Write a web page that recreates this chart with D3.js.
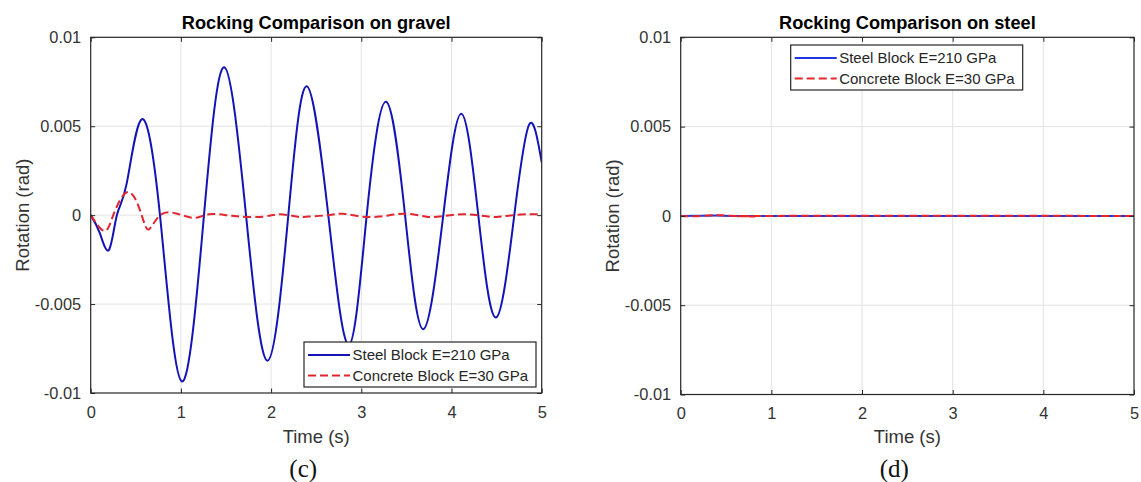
<!DOCTYPE html>
<html>
<head>
<meta charset="utf-8">
<script src="https://cdn.jsdelivr.net/npm/d3@7"></script>
<style>
  html, body { margin: 0; padding: 0; background: #ffffff; }
  svg { display: block; }
</style>
</head>
<body>
<svg id="fig" width="1141" height="482"></svg>
<script>
// ---- axis ticks and labels ----
const timeTicks = [0, 1, 2, 3, 4, 5];
const rotTicks = [-0.01, -0.005, 0, 0.005, 0.01];
const rotTickLabels = ["-0.01", "-0.005", "0", "0.005", "0.01"];
const legendLabels = ["Steel Block E=210 GPa", "Concrete Block E=30 GPa"];
const panelTitles = ["Rocking Comparison on gravel", "Rocking Comparison on steel"];
const panelCaptions = ["(c)", "(d)"];

// ---- rocking response on gravel (time s, rotation rad) ----
const gravelSteelTime = [0, 0.10, 0.203, 0.29, 0.40, 0.565, 0.768, 1.009, 1.256, 1.481, 1.722, 1.962,
  2.191, 2.395, 2.634, 2.862, 3.06, 3.274, 3.485, 3.687, 3.909, 4.109, 4.297, 4.493, 4.696, 4.863, 5.0];
const gravelSteelRot = [0, -0.0010, -0.00195, 0, 0.0018, 0.00539, 0, -0.00935, 0, 0.00832, 0, -0.00818,
  0, 0.00725, 0, -0.0073, 0, 0.00637, 0, -0.00641, 0, 0.0057, 0, -0.00576, 0, 0.00511, 0.00297];

const gravelConcreteTime = [0, 0.151, 0.25, 0.417, 0.565, 0.646, 0.77, 0.96, 1.15, 1.31, 1.5, 1.67, 1.92,
  2.1, 2.28, 2.41, 2.63, 2.8, 3.0, 3.2, 3.39, 3.57, 3.74, 3.91, 4.13, 4.32, 4.5, 4.68, 4.87, 5.0];
const gravelConcreteRot = [0, -0.00089, 0, 0.0013, 0, -0.0008, 0, 0.00008, -0.00015, 0.00005, 0, -0.00008, -0.00008,
  0.00005, -0.00008, -0.00008, 0, 0.00008, -0.00008, -0.00008, 0.00005, 0.00005, -0.0001, -0.00005, 0.00005, -0.00002,
  -0.0001, 0, 0.00005, 0.00004];

// ---- rocking response on steel ----
const steelSteelTime = [0, 0.2, 0.4, 0.6, 0.8, 1.0, 5.0];
const steelSteelRot = [0, 0.00001, 0.00002, 0, -0.00001, 0, 0];
const steelConcreteTime = [0, 0.15, 0.35, 0.55, 0.8, 1.0, 5.0];
const steelConcreteRot = [0, -0.00002, 0.00004, 0.00001, -0.00003, 0, 0];

const svg = d3.select("#fig");
const FONT = "'Liberation Sans', Arial, Helvetica, sans-serif";
const AXIS_COLOR = "#262626";
const TEXT_COLOR = "#333333";

function toPoints(ts, vs) { return ts.map((t, i) => [t, vs[i]]); }

function drawPanel(p) {
  const x = d3.scaleLinear().domain([0, 5]).range([p.left, p.right]);
  const y = d3.scaleLinear().domain([-0.01, 0.01]).range([p.bottom, p.top]);
  const g = svg.append("g");

  // grid
  const grid = g.append("g").attr("stroke", "#e3e3e3").attr("stroke-width", 1);
  grid.selectAll("line.gx").data(timeTicks.slice(1, -1)).join("line")
    .attr("class", "gx")
    .attr("x1", d => x(d)).attr("x2", d => x(d))
    .attr("y1", p.top).attr("y2", p.bottom);
  grid.selectAll("line.gy").data(rotTicks.slice(1, -1)).join("line")
    .attr("class", "gy")
    .attr("x1", p.left).attr("x2", p.right)
    .attr("y1", d => y(d)).attr("y2", d => y(d));

  // clipped data area
  const clipId = "clip" + p.id;
  svg.append("defs").append("clipPath").attr("id", clipId)
    .append("rect").attr("x", p.left).attr("y", p.top)
    .attr("width", p.right - p.left).attr("height", p.bottom - p.top);

  const line = d3.line().x(d => x(d[0])).y(d => y(d[1])).curve(d3.curveNatural);
  const plot = g.append("g").attr("clip-path", `url(#${clipId})`);
  plot.append("path").datum(toPoints(p.steelT, p.steelV))
    .attr("d", line).attr("fill", "none")
    .attr("stroke", p.blue).attr("stroke-width", 2).attr("stroke-linejoin", "round");
  plot.append("path").datum(toPoints(p.concT, p.concV))
    .attr("d", line).attr("fill", "none")
    .attr("stroke", p.red).attr("stroke-width", 2).attr("stroke-dasharray", "8,4");

  // axes with inward ticks
  const styleAxis = sel => {
    sel.select(".domain").remove();
    sel.selectAll(".tick line").attr("stroke", AXIS_COLOR);
    sel.selectAll("text").attr("fill", TEXT_COLOR).attr("font-family", FONT).attr("font-size", 16.4);
  };
  g.append("g").attr("transform", `translate(0,${p.bottom})`)
    .call(d3.axisBottom(x).tickValues(timeTicks).tickSize(-4.5).tickPadding(13).tickFormat(d3.format("d")))
    .call(styleAxis);
  g.append("g").attr("transform", `translate(0,${p.top})`)
    .call(d3.axisTop(x).tickValues(timeTicks).tickSize(-4.5).tickFormat(""))
    .call(styleAxis);
  g.append("g").attr("transform", `translate(${p.left},0)`)
    .call(d3.axisLeft(y).tickValues(rotTicks).tickSize(-4.5).tickPadding(9.5)
      .tickFormat((d, i) => rotTickLabels[i]))
    .call(styleAxis);
  g.append("g").attr("transform", `translate(${p.right},0)`)
    .call(d3.axisRight(y).tickValues(rotTicks).tickSize(-4.5).tickFormat(""))
    .call(styleAxis);

  // frame
  g.append("rect").attr("x", p.left).attr("y", p.top)
    .attr("width", p.right - p.left).attr("height", p.bottom - p.top)
    .attr("fill", "none").attr("stroke", AXIS_COLOR).attr("stroke-width", 1.2);

  const cx = (p.left + p.right) / 2;
  // title
  g.append("text").attr("x", cx).attr("y", 29.3).attr("text-anchor", "middle")
    .attr("font-family", FONT).attr("font-weight", "bold").attr("font-size", 18.2)
    .attr("fill", "#000").text(p.title);
  // axis labels
  g.append("text").attr("x", cx).attr("y", 443).attr("text-anchor", "middle")
    .attr("font-family", FONT).attr("font-size", 18.5).attr("fill", TEXT_COLOR).text("Time (s)");
  g.append("text")
    .attr("transform", `translate(${p.left - 62},${(p.top + p.bottom) / 2}) rotate(-90)`)
    .attr("text-anchor", "middle")
    .attr("font-family", FONT).attr("font-size", 18.5).attr("fill", TEXT_COLOR).text("Rotation (rad)");
  // caption
  g.append("text").attr("x", cx - 13).attr("y", 477).attr("text-anchor", "middle")
    .attr("font-family", "'Liberation Serif', 'Times New Roman', serif").attr("font-size", 25)
    .attr("fill", "#111").text(p.caption);

  // legend
  const lg = g.append("g").attr("transform", `translate(${p.legX},${p.legY})`);
  lg.append("rect").attr("x", 0).attr("y", 0).attr("width", p.legW).attr("height", 45)
    .attr("fill", "#fff").attr("stroke", AXIS_COLOR).attr("stroke-width", 1.2);
  const rows = [
    { label: legendLabels[0], color: p.blue, dash: null },
    { label: legendLabels[1], color: p.red, dash: "8,4" }
  ];
  rows.forEach((r, i) => {
    const yy = 13 + i * 20.5;
    lg.append("line").attr("x1", 4).attr("x2", 46).attr("y1", yy).attr("y2", yy)
      .attr("stroke", r.color).attr("stroke-width", 2)
      .attr("stroke-dasharray", r.dash);
    lg.append("text").attr("x", 48.5).attr("y", yy).attr("dy", "0.35em")
      .attr("font-family", FONT).attr("font-size", 15).attr("fill", "#262626").text(r.label);
  });
}

drawPanel({
  id: 0, left: 90.7, right: 541.7, top: 37.3, bottom: 393,
  steelT: gravelSteelTime, steelV: gravelSteelRot,
  concT: gravelConcreteTime, concV: gravelConcreteRot,
  blue: "#1414b4", red: "#e0262e",
  title: panelTitles[0], caption: panelCaptions[0],
  legX: 304, legY: 342, legW: 232
});
drawPanel({
  id: 1, left: 680.7, right: 1134, top: 37.3, bottom: 394.5,
  steelT: steelSteelTime, steelV: steelSteelRot,
  concT: steelConcreteTime, concV: steelConcreteRot,
  blue: "#2233e0", red: "#e8262e",
  title: panelTitles[1], caption: panelCaptions[1],
  legX: 790.7, legY: 45, legW: 232
});
</script>
</body>
</html>
